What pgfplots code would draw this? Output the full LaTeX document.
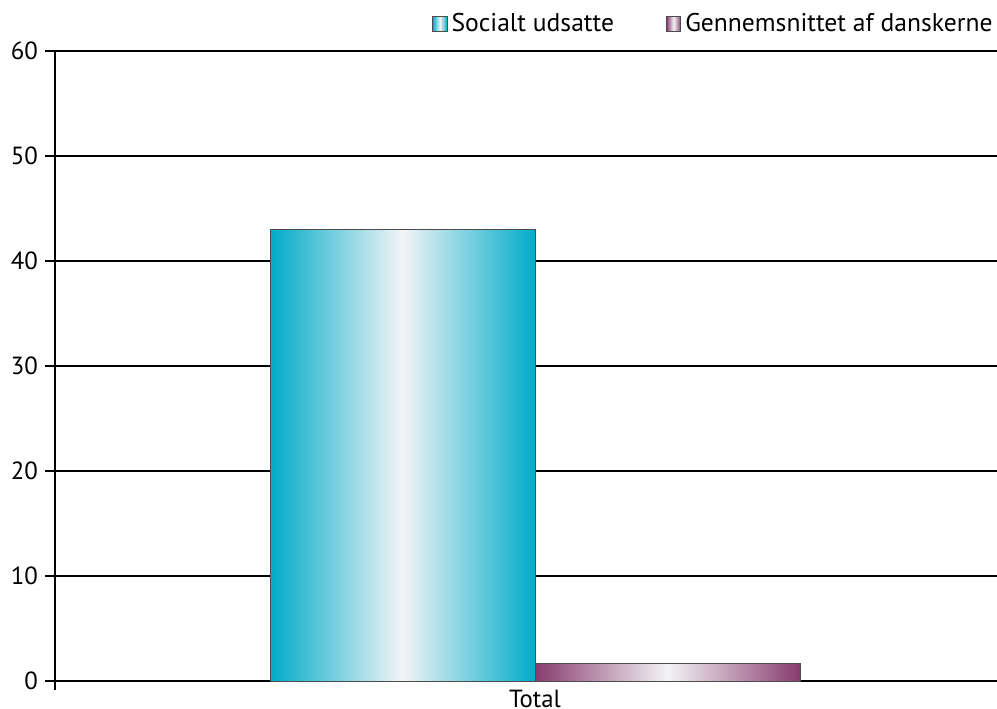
\documentclass[border=0pt]{standalone}
\usepackage{fontspec}
\setmainfont{PT Sans}
\usepackage{pgfplots}
\pgfplotsset{compat=1.18}
\definecolor{cyanbar}{RGB}{0,172,200}
\definecolor{plumbar}{RGB}{135,60,110}
\definecolor{midwhite}{RGB}{243,244,246}
\pgfplotsset{sqlegend/.style={legend image code/.code={%
  \draw[##1, draw=black!70, line width=0.4pt] (0pt,-3.6pt) rectangle (7.2pt,3.6pt);}}}
\begin{document}
\begin{tikzpicture}
\useasboundingbox (-27.5pt,-8.8pt) rectangle (471pt,345.2pt);
\begin{axis}[
  at={(0,0)}, anchor=south west,
  scale only axis, width=471pt, height=319.7pt,
  xmin=55, xmax=997, ymin=-0.9, ymax=60,
  axis x line*=bottom, axis y line*=left,
  x axis line style={draw=none},
  y axis line style={black, line width=0.8pt},
  ytick={0,10,...,60},
  xtick={535}, xticklabels={Total},
  x tick style={draw=none},
  x tick label style={inner sep=0pt, yshift=5.4pt},
  y tick style={black, line width=0.8pt},
  tick align=outside, major tick length=5pt,
  ymajorgrids, grid style={black, line width=0.8pt},
  tick label style={font=\fontsize{12.4}{14}\selectfont},
  /pgf/number format/assume math mode=true,
  legend columns=2,
  legend style={draw=none, fill=none, at={(1,1)}, anchor=south east, yshift=6pt,
    font=\fontsize{12.8}{14}\selectfont, inner sep=0pt,
    /tikz/every even column/.append style={column sep=24pt}},
  legend cell align=left,
]
\addplot[ybar, bar width=132.5pt, bar shift=0pt, draw=black!70, line width=0.4pt,
  left color=cyanbar, right color=cyanbar, middle color=midwhite, sqlegend]
  coordinates {(402.5,43)};
\addplot[ybar, bar width=132.5pt, bar shift=0pt, draw=black!70, line width=0.4pt,
  left color=plumbar, right color=plumbar, middle color=midwhite, sqlegend]
  coordinates {(667.5,1.7)};
\legend{Socialt udsatte, Gennemsnittet af danskerne}
\end{axis}
\end{tikzpicture}
\end{document}
